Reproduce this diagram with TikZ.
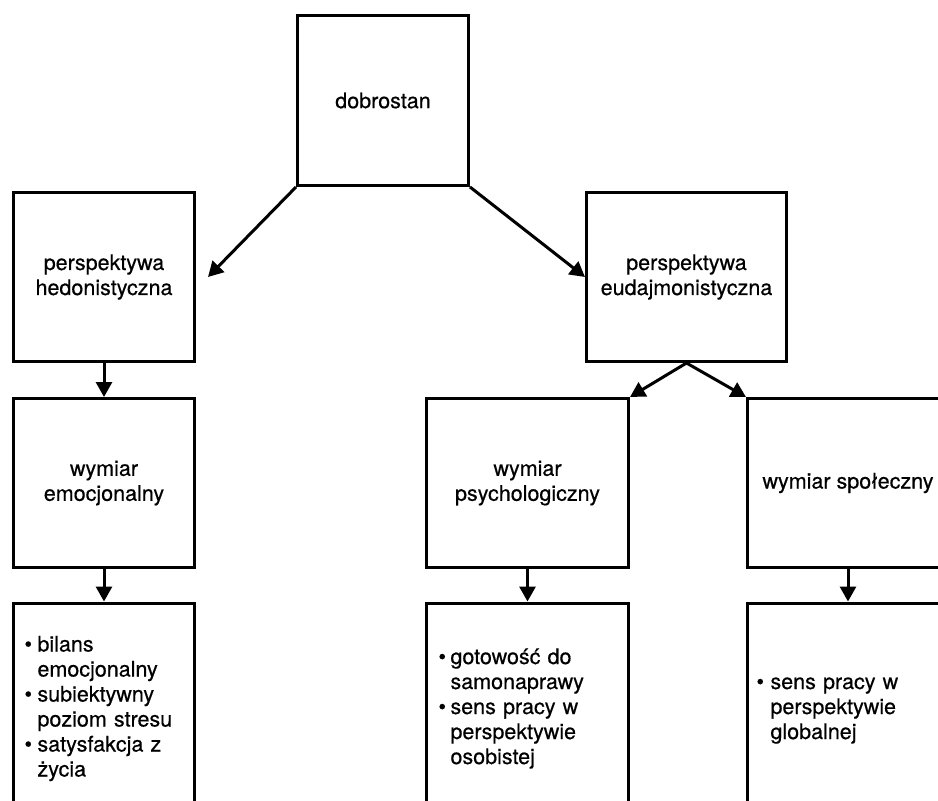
\documentclass[tikz,border=0pt]{standalone}
\usepackage{fontspec}
\setmainfont[FakeBold=0.5]{TeX Gyre Heros}
\usetikzlibrary{arrows.meta}
\begin{document}
\begin{tikzpicture}[x=1pt,y=-1pt,
  box/.style={draw, line width=3pt, align=center, inner sep=0pt,
    font=\fontsize{21.5}{25}\selectfont},
  listbox/.style={draw, line width=3pt, align=left, inner ysep=0pt,
    minimum height=212pt, font=\fontsize{21.5}{25}\selectfont},
  arr/.style={line width=3pt, -{Triangle[length=15pt,width=16pt]}},
]
\useasboundingbox (0,0) rectangle (938,801);
\clip (0,0) rectangle (938,801);

\node[box, minimum width=171pt, minimum height=170pt] (dob) at (383,100.5) {dobrostan};
\node[box, minimum width=181pt, minimum height=169pt] (hed) at (104,277) {perspektywa\\hedonistyczna};
\node[box, minimum width=200pt, minimum height=169pt] (eud) at (686.5,277) {perspektywa\\eudajmonistyczna};
\node[box, minimum width=181pt, minimum height=169pt] (emo) at (104,483) {wymiar\\emocjonalny};
\node[box, minimum width=202pt, minimum height=169pt] (psy) at (527.5,483) {wymiar\\psychologiczny};
\node[box, minimum width=201pt, minimum height=169pt] (spo) at (848,483) {wymiar społeczny};

\node[listbox, text width=159pt, inner xsep=11pt] (emol) at (104,709) {%
\begin{tabular}{@{}p{13pt}@{}l@{}}
• & bilans\\ & emocjonalny\\ • & subiektywny\\ & poziom stresu\\ • & satysfakcja z\\ & życia
\end{tabular}};
\node[listbox, text width=178pt, inner xsep=12pt] (psyl) at (527.5,709) {%
\begin{tabular}{@{}p{12pt}@{}l@{}}
• & gotowość do\\ & samonaprawy\\ • & sens pracy w\\ & perspektywie\\ & osobistej
\end{tabular}};
\node[listbox, text width=183pt, inner xsep=9pt] (spol) at (848,709) {%
\begin{tabular}{@{}p{14pt}@{}l@{}}
• & sens pracy w\\ & perspektywie\\ & globalnej
\end{tabular}};

\coordinate (hedtip) at (208,277);
\draw[arr] (dob.south west) -- (hedtip);
\draw[arr] (dob.south east) -- (eud.west);
\draw[arr] (eud.south) -- (psy.north east);
\draw[arr] (eud.south) -- (spo.north west);
\draw[arr] (hed.south) -- (emo.north);
\draw[arr] (emo.south) -- (emol.north);
\draw[arr] (psy.south) -- (psyl.north);
\draw[arr] (spo.south) -- (spol.north);
\end{tikzpicture}
\end{document}
